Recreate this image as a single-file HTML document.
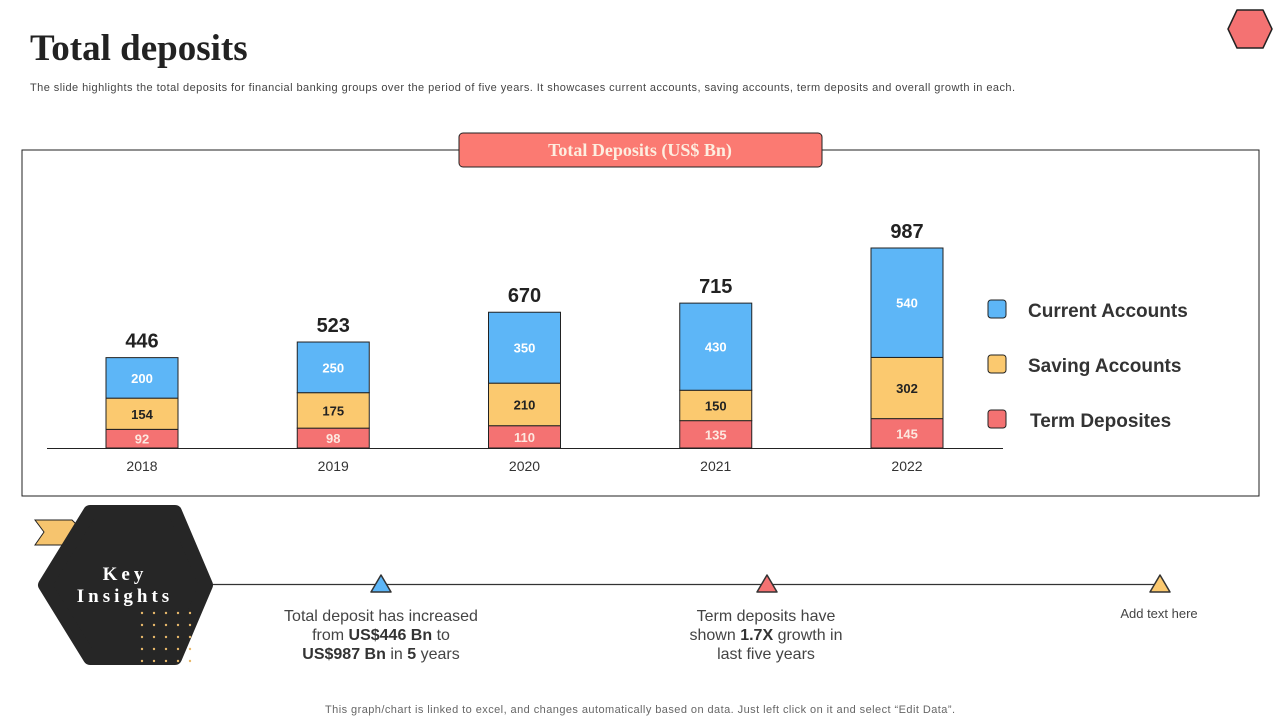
<!DOCTYPE html>
<html><head><meta charset="utf-8"><style>
body{margin:0;width:1280px;height:720px;background:#fff;overflow:hidden;font-family:"Liberation Sans",sans-serif;}
</style></head><body>
<svg width="1280" height="720" xmlns="http://www.w3.org/2000/svg">
<text x="30" y="60" font-family="Liberation Serif,serif" font-weight="bold" font-size="37" fill="#222">Total deposits</text>
<text x="30" y="91" font-size="11" fill="#444" textLength="985" lengthAdjust="spacing">The slide highlights the total deposits for financial banking groups over the period of five years. It showcases current accounts, saving accounts, term deposits and overall growth in each.</text>
<polygon points="1237,10 1263,10 1272,29 1263,48 1237,48 1228,29" fill="#f47272" stroke="#222" stroke-width="1.5" stroke-linejoin="round"/>
<rect x="22" y="150" width="1237" height="346" fill="none" stroke="#222" stroke-width="1"/>
<rect x="459" y="133" width="363" height="34" rx="4" fill="#fb7a72" stroke="#222" stroke-width="1"/>
<text x="640" y="156" text-anchor="middle" font-family="Liberation Serif,serif" font-weight="bold" font-size="18" fill="#fdeee0">Total Deposits (US$ Bn)</text>
<g id="chart"></g>
<line x1="47" y1="448.5" x2="1003" y2="448.5" stroke="#222" stroke-width="1"/>
<g>
<g><rect x="988" y="300" width="18" height="18" rx="3" fill="#5db6f7" stroke="#222"/><text x="1028" y="317" font-size="19" font-weight="bold" fill="#333">Current Accounts</text></g>
<g><rect x="988" y="355" width="18" height="18" rx="3" fill="#fbc96f" stroke="#222"/><text x="1028" y="372" font-size="19" font-weight="bold" fill="#333">Saving Accounts</text></g>
<g><rect x="988" y="410" width="18" height="18" rx="3" fill="#f47272" stroke="#222"/><text x="1030" y="427" font-size="19" font-weight="bold" fill="#333">Term Deposites</text></g>
</g>
<line x1="200" y1="584.5" x2="1160" y2="584.5" stroke="#333" stroke-width="1.2"/>
<g>
<polygon points="35,520 72,520 84,532 72,545 35,545 44,532" fill="#f6c46e" stroke="#222"/>
</g>
<polygon points="90,512 175,512 206,585 175,658 90,658 45,585" fill="#262626" stroke-linejoin="round" stroke="#262626" stroke-width="14"/>
<g fill="#e8b86a">
<circle cx="142" cy="613" r="1.2"/><circle cx="154" cy="613" r="1.2"/><circle cx="166" cy="613" r="1.2"/><circle cx="178" cy="613" r="1.2"/><circle cx="190" cy="613" r="1.2"/>
<circle cx="142" cy="625" r="1.2"/><circle cx="154" cy="625" r="1.2"/><circle cx="166" cy="625" r="1.2"/><circle cx="178" cy="625" r="1.2"/><circle cx="190" cy="625" r="1.2"/>
<circle cx="142" cy="637" r="1.2"/><circle cx="154" cy="637" r="1.2"/><circle cx="166" cy="637" r="1.2"/><circle cx="178" cy="637" r="1.2"/><circle cx="190" cy="637" r="1.2"/>
<circle cx="142" cy="649" r="1.2"/><circle cx="154" cy="649" r="1.2"/><circle cx="166" cy="649" r="1.2"/><circle cx="178" cy="649" r="1.2"/><circle cx="190" cy="649" r="1.2"/>
<circle cx="142" cy="661" r="1.2"/><circle cx="154" cy="661" r="1.2"/><circle cx="166" cy="661" r="1.2"/><circle cx="178" cy="661" r="1.2"/><circle cx="190" cy="661" r="1.2"/>
</g>
<text x="125" y="580" text-anchor="middle" font-family="Liberation Serif,serif" font-weight="bold" font-size="19" letter-spacing="4" fill="#fff">Key</text>
<text x="125" y="602" text-anchor="middle" font-family="Liberation Serif,serif" font-weight="bold" font-size="19" letter-spacing="4" fill="#fff">Insights</text>
<polygon points="381,575 391,592 371,592" fill="#5db6f7" stroke="#333" stroke-linejoin="round" stroke-width="1.5"/>
<polygon points="767,575 777,592 757,592" fill="#f47272" stroke="#333" stroke-linejoin="round" stroke-width="1.5"/>
<polygon points="1160,575 1170,592 1150,592" fill="#fbc96f" stroke="#333" stroke-linejoin="round" stroke-width="1.5"/>
<g font-size="16" fill="#444" text-anchor="middle">
<text x="381" y="621">Total deposit has increased</text>
<text x="381" y="640">from <tspan font-weight="bold" fill="#333">US$446 Bn</tspan> to</text>
<text x="381" y="659"><tspan font-weight="bold" fill="#333">US$987 Bn</tspan> in <tspan font-weight="bold" fill="#333">5</tspan> years</text>
</g>
<g font-size="16" fill="#444" text-anchor="middle">
<text x="766" y="621">Term deposits have</text>
<text x="766" y="640">shown <tspan font-weight="bold" fill="#333">1.7X</tspan> growth  in</text>
<text x="766" y="659">last five years</text>
</g>
<text x="1159" y="618" text-anchor="middle" font-size="13" fill="#444">Add text here</text>
<text x="325" y="713" font-size="11" fill="#666" textLength="630" lengthAdjust="spacing">This graph/chart is linked to excel, and changes automatically based on data. Just left click on it and select “Edit Data”.</text>
</svg>
<script>
const years=["2018","2019","2020","2021","2022"];
const termDeposits=[92,98,110,135,145];
const savingAccounts=[154,175,210,150,302];
const currentAccounts=[200,250,350,430,540];
const totals=[446,523,670,715,987];
const NS="http://www.w3.org/2000/svg";
const g=document.getElementById("chart");
const baseY=448, scale=200/987, x0=142, step=191.25, bw=72;
const xPos=i=>x0+i*step;
const yPos=v=>baseY-v*scale;
function mk(tag,attrs,txt){const e=document.createElementNS(NS,tag);for(const k in attrs)e.setAttribute(k,attrs[k]);if(txt!==undefined)e.textContent=txt;g.appendChild(e);return e;}
const series=[[termDeposits,"#f47272","#fde8e0","term"],[savingAccounts,"#fbc96f","#222","saving"],[currentAccounts,"#5db6f7","#fff","current"]];
years.forEach((yr,i)=>{
  let cum=0;const cx=xPos(i);
  series.forEach(([arr,col,tc,nm])=>{
    const v=arr[i];const y1=yPos(cum+v),y0=yPos(cum);
    const r=mk("rect",{x:cx-bw/2,y:y1,width:bw,height:y0-y1,fill:col,stroke:"#222","stroke-width":1});
    
    
    const t=mk("text",{x:cx,y:(y1+y0)/2+5,"text-anchor":"middle","font-size":13,"font-weight":"bold",fill:tc},v);
    
    
    cum+=v;
  });
  const tt=mk("text",{x:cx,y:yPos(cum)-10,"text-anchor":"middle","font-size":20,"font-weight":"bold",fill:"#222"},totals[i]);
  
  
  const xl=mk("text",{x:cx,y:471,"text-anchor":"middle","font-size":14,fill:"#333"},yr);
  
  
});
</script>
</body></html>
